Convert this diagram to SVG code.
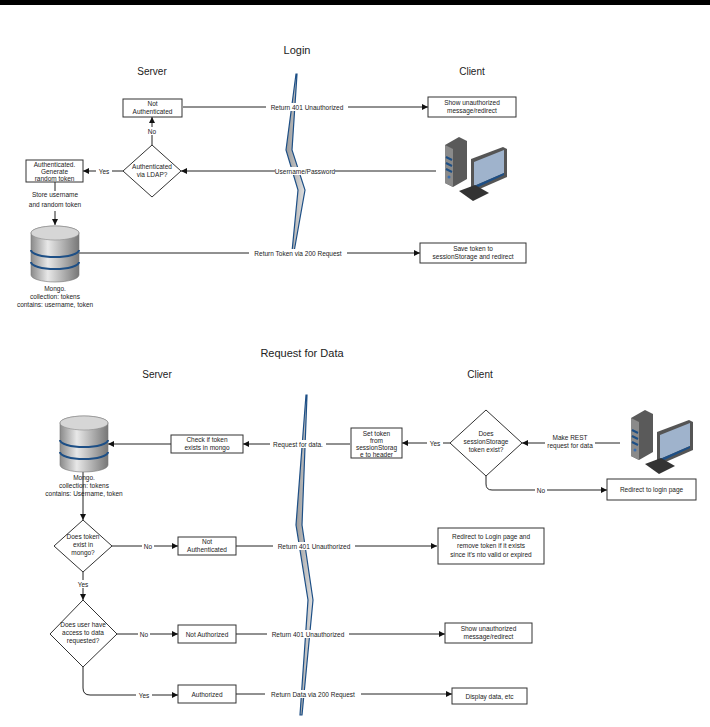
<svg xmlns="http://www.w3.org/2000/svg" width="710" height="727" viewBox="0 0 710 727">
<style>
text{font-family:"Liberation Sans",Arial,sans-serif;fill:#222}
.s{font-size:6.5px;text-anchor:middle}
.t{font-size:11px;text-anchor:middle}
.h{font-size:10px;text-anchor:middle}
.b{fill:#fff;stroke:#333;stroke-width:1}
.l{fill:none;stroke:#222;stroke-width:1}
.a{marker-end:url(#ar)}
.lb{fill:#fff}
</style>
<defs>
<marker id="ar" viewBox="0 0 10 10" refX="10" refY="5" markerWidth="6" markerHeight="6" orient="auto"><path d="M0,0L10,5L0,10z" fill="#111"/></marker>
<linearGradient id="cy" x1="0" x2="1"><stop offset="0" stop-color="#8a8a8a"/><stop offset="0.35" stop-color="#e8e8e8"/><stop offset="1" stop-color="#777"/></linearGradient>
<linearGradient id="rib" x1="0" x2="1"><stop offset="0" stop-color="#9a9a9a"/><stop offset="1" stop-color="#e0e0e0"/></linearGradient>
<g id="db">
<path d="M0,7 A24,7 0 0 1 48,7 V49 A24,7 0 0 1 0,49 Z" fill="url(#cy)" stroke="#777" stroke-width="0.6"/>
<ellipse cx="24" cy="7" rx="24" ry="7" fill="#d6d6d6" stroke="#888" stroke-width="0.6"/>
<path d="M0,24 A24,7 0 0 0 48,24 M0,36 A24,7 0 0 0 48,36" fill="none" stroke="#1d4f86" stroke-width="2"/>
</g>
<g id="pc">
<path d="M8,8 L22,0 L30,4 L30,42 L16,50 L8,46 Z" fill="#5a5a5a"/>
<path d="M8,8 L16,12 L16,50 L8,46 Z" fill="#8a8a8a"/>
<path d="M9,20 L15,23 M9,26 L15,29 M9,32 L15,35" stroke="#1d4f86" stroke-width="2"/>
<circle cx="12" cy="40" r="1.5" fill="#3a6fb0"/>
<path d="M34,22 L66,10 L70,12 L70,40 L38,54 L34,52 Z" fill="#555"/>
<path d="M37,25 L67,13 L67,36 L37,49 Z" fill="#9fb3cc"/>
<path d="M37,49 L67,36 L67,38 L37,52 Z" fill="#1d4f86"/>
<path d="M22,54 L38,48 L52,56 L36,64 Z" fill="#333"/>
</g>
</defs>
<rect x="0" y="0" width="710" height="5" fill="#000"/>
<rect x="0" y="5" width="710" height="722" fill="#fff"/>

<g id="separators">
<path d="M296,74 L286,150 L298,190 L292,252 L294,252 L305,190 L292,150 L297,74 Z" fill="url(#rib)" stroke="#1d4f86" stroke-width="1.2"/>
<path d="M306,395 L296,525 L308,600 L300,715 L302,715 L313,600 L302,525 L307,395 Z" fill="url(#rib)" stroke="#1d4f86" stroke-width="1.2"/>
</g>

<text class="t" x="297" y="54">Login</text>
<text class="h" x="152" y="75">Server</text>
<text class="h" x="472" y="75">Client</text>
<text class="t" x="302" y="357">Request for Data</text>
<text class="h" x="157" y="378">Server</text>
<text class="h" x="480" y="378">Client</text>

<g id="connectors">
<path class="l a" d="M183,107 H428"/>
<rect class="lb" x="266" y="103" width="82" height="8"/><text class="s" x="307" y="109.5">Return 401 Unauthorized</text>
<path class="l a" d="M152,145 V117"/>
<rect class="lb" x="146" y="127" width="12" height="8"/><text class="s" x="152" y="133.5">No</text>
<path class="l a" d="M436,171 H181"/>
<rect class="lb" x="275" y="167" width="60" height="8"/><text class="s" x="305" y="173.5">Username/Password</text>
<path class="l a" d="M123,171 H83"/>
<rect class="lb" x="96" y="167" width="16" height="8"/><text class="s" x="104" y="173.5">Yes</text>
<path class="l a" d="M55,182 V225"/>
<rect class="lb" x="28" y="191" width="56" height="20"/>
<text class="s" x="55" y="197">Store username</text><text class="s" x="55" y="207">and random token</text>
<path class="l a" d="M79,253 H420"/>
<rect class="lb" x="249" y="249" width="98" height="8"/><text class="s" x="298" y="255.5">Return Token via 200 Request</text>

<path class="l a" d="M350,444 H243"/>
<rect class="lb" x="270" y="440" width="56" height="8"/><text class="s" x="298" y="446.5">Request for data.</text>
<path class="l a" d="M171,444 H108"/>
<path class="l a" d="M450,443 H402"/>
<rect class="lb" x="427" y="439" width="16" height="8"/><text class="s" x="435" y="445.5">Yes</text>
<path class="l a" d="M620,443 H522"/>
<rect class="lb" x="545" y="432" width="50" height="18"/>
<text class="s" x="570" y="440">Make REST</text><text class="s" x="570" y="448">request for data</text>
<path class="l a" d="M486,476 V484 Q486,490 492,490 H607"/>
<rect class="lb" x="535" y="486" width="12" height="8"/><text class="s" x="541" y="492.5">No</text>

<path class="l a" d="M83,472 V520"/>
<path class="l a" d="M112,546 H178"/>
<rect class="lb" x="142" y="542" width="12" height="8"/><text class="s" x="148" y="548.5">No</text>
<path class="l a" d="M236,546 H437"/>
<rect class="lb" x="273" y="542" width="82" height="8"/><text class="s" x="314" y="548.5">Return 401 Unauthorized</text>
<path class="l a" d="M83,572 V600"/>
<rect class="lb" x="75" y="580" width="16" height="8"/><text class="s" x="83" y="586.5">Yes</text>
<path class="l a" d="M117,634 H178"/>
<rect class="lb" x="138" y="630" width="12" height="8"/><text class="s" x="144" y="636.5">No</text>
<path class="l a" d="M236,634 H445"/>
<rect class="lb" x="267" y="630" width="82" height="8"/><text class="s" x="308" y="636.5">Return 401 Unauthorized</text>
<path class="l a" d="M83,667 V688 Q83,695 90,695 H178"/>
<rect class="lb" x="136" y="691" width="16" height="8"/><text class="s" x="144" y="697.5">Yes</text>
<path class="l a" d="M236,694 H452"/>
<rect class="lb" x="265" y="690" width="96" height="8"/><text class="s" x="313" y="696.5">Return Data via 200 Request</text>
</g>

<g id="not-auth-login"><rect class="b" x="123" y="99" width="59" height="18"/><text class="s" x="152.5" y="106">Not</text><text class="s" x="152.5" y="114">Authenticated</text></g>
<g id="show-unauth-login"><rect class="b" x="428" y="97" width="88" height="20"/><text class="s" x="472" y="105">Show unauthorized</text><text class="s" x="472" y="113">message/redirect</text></g>
<g id="ldap"><path class="b" d="M152,145 L181,171 L152,197 L123,171 Z"/><text class="s" x="152" y="169">Authenticated</text><text class="s" x="152" y="177">via LDAP?</text></g>
<g id="authenticated"><rect class="b" x="26" y="160" width="57" height="22"/><text class="s" x="54.5" y="167">Authenticated.</text><text class="s" x="54.5" y="174">Generate</text><text class="s" x="54.5" y="181">random token</text></g>
<g id="mongo-login"><use href="#db" x="31" y="226"/><text class="s" x="55" y="291">Mongo.</text><text class="s" x="55" y="299">collection: tokens</text><text class="s" x="55" y="307">contains: username, token</text></g>
<g id="pc-login"><use href="#pc" x="437" y="137"/></g>
<g id="save-token"><rect class="b" x="420" y="243" width="106" height="20"/><text class="s" x="473" y="251">Save token to</text><text class="s" x="473" y="259">sessionStorage and redirect</text></g>

<g id="mongo-data"><use href="#db" x="60" y="416"/><text class="s" x="84" y="480">Mongo.</text><text class="s" x="84" y="488">collection: tokens</text><text class="s" x="84" y="496">contains: Username, token</text></g>
<g id="check-token"><rect class="b" x="171" y="435" width="72" height="18"/><text class="s" x="207" y="442">Check if token</text><text class="s" x="207" y="450">exists in mongo</text></g>
<g id="set-token"><rect class="b" x="351" y="428" width="51" height="30"/><text class="s" x="376.5" y="436">Set token</text><text class="s" x="376.5" y="443">from</text><text class="s" x="376.5" y="450">sessionStorag</text><text class="s" x="376.5" y="457">e to header</text></g>
<g id="session-exists"><path class="b" d="M486,410 L522,443 L486,476 L450,443 Z"/><text class="s" x="486" y="436">Does</text><text class="s" x="486" y="444">sessionStorage</text><text class="s" x="486" y="452">token exist?</text></g>
<g id="pc-data"><use href="#pc" x="623" y="410"/></g>
<g id="redirect-login"><rect class="b" x="607" y="479" width="89" height="21"/><text class="s" x="651.5" y="492">Redirect to login page</text></g>
<g id="token-exists"><path class="b" d="M83,520 L112,546 L83,572 L54,546 Z"/><text class="s" x="83" y="539">Does token</text><text class="s" x="83" y="547">exist in</text><text class="s" x="83" y="555">mongo?</text></g>
<g id="not-auth-data"><rect class="b" x="178" y="537" width="58" height="18"/><text class="s" x="207" y="544">Not</text><text class="s" x="207" y="552">Authenticated</text></g>
<g id="redirect-remove"><rect class="b" x="438" y="528" width="106" height="36"/><text class="s" x="491" y="539">Redirect to Login page and</text><text class="s" x="491" y="548">remove token if it exists</text><text class="s" x="491" y="557">since it's nto valid or expired</text></g>
<g id="has-access"><path class="b" d="M83,600 L117,634 L83,667 L50,634 Z"/><text class="s" x="83" y="627">Does user have</text><text class="s" x="83" y="635">access to data</text><text class="s" x="83" y="643">requested?</text></g>
<g id="not-authorized"><rect class="b" x="178" y="625" width="58" height="18"/><text class="s" x="207" y="636.5">Not Authorized</text></g>
<g id="show-unauth-data"><rect class="b" x="445" y="623" width="87" height="20"/><text class="s" x="488.5" y="631">Show unauthorized</text><text class="s" x="488.5" y="639">message/redirect</text></g>
<g id="authorized"><rect class="b" x="178" y="685" width="58" height="18"/><text class="s" x="207" y="696.5">Authorized</text></g>
<g id="display-data"><rect class="b" x="452" y="688" width="75" height="16"/><text class="s" x="489.5" y="698.5">Display data, etc</text></g>
</svg>
